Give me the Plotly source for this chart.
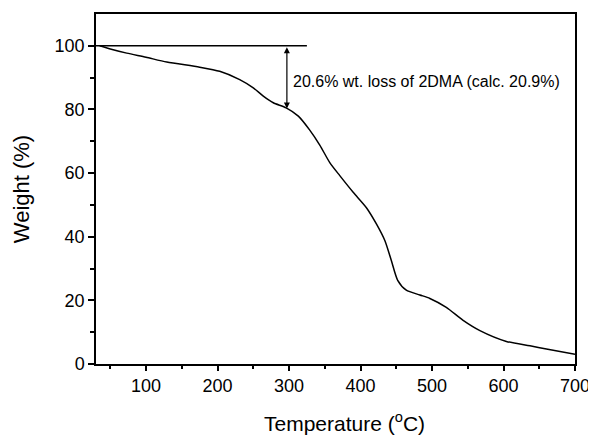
import plotly.graph_objects as go

# Data
temperature = [35, 50, 73, 100, 129, 175, 203, 231, 250, 264, 278, 296, 313, 329, 343, 357, 371,
               390, 408, 422, 434, 443, 452, 464, 483, 497, 520, 543, 567, 604, 637, 660, 700]
weight = [100, 99.0, 97.7, 96.4, 94.9, 93.3, 92.0, 89.4, 86.8, 84.2, 82.1, 80.5, 77.9, 73.5, 68.8, 63.3, 59.2,
          53.9, 49.2, 44.1, 38.8, 32.6, 26.3, 23.2, 21.7, 20.6, 17.8, 13.8, 10.5, 7.1, 5.7, 4.7, 3.1]

ref_line_x = [30, 325]
ref_line_y = [100, 100]
arrow_x = 297
arrow_top = 100
arrow_bottom = 80.3
label_text = "20.6% wt. loss of 2DMA (calc. 20.9%)"

x_ticks = [100, 200, 300, 400, 500, 600, 700]
x_minor = [50, 150, 250, 350, 450, 550, 650]
y_ticks = [0, 20, 40, 60, 80, 100]
y_minor = [10, 30, 50, 70, 90]

FONT = "Arial, Liberation Sans, sans-serif"

fig = go.Figure()
fig.add_trace(go.Scatter(x=temperature, y=weight, mode="lines",
                         line=dict(color="black", width=1.5, shape="spline", smoothing=0.7),
                         showlegend=False, hoverinfo="skip"))
fig.add_trace(go.Scatter(x=ref_line_x, y=ref_line_y, mode="lines",
                         line=dict(color="black", width=1.5), showlegend=False, hoverinfo="skip"))

fig.add_annotation(x=arrow_x, y=arrow_bottom, ax=arrow_x, ay=arrow_top, xref="x", yref="y",
                   axref="x", ayref="y", text="", showarrow=True, arrowhead=2, startarrowhead=2,
                   arrowside="end+start", arrowsize=1, arrowwidth=1.2, arrowcolor="black",
                   standoff=0, startstandoff=0)
fig.add_annotation(x=arrow_x + 6, y=88.8, xref="x", yref="y", text=label_text, showarrow=False,
                   xanchor="left", yanchor="middle", font=dict(family=FONT, size=16, color="black"))
fig.add_annotation(x=0.518, y=-58 / 352, xref="paper", yref="paper",
                   text="Temperature (<sup>o</sup>C)", showarrow=False,
                   xanchor="center", yanchor="middle", font=dict(family=FONT, size=21, color="black"))

axis_common = dict(showline=True, linecolor="black", linewidth=1.5, mirror=True,
                   ticks="outside", tickcolor="black", tickwidth=1.5, showgrid=False, zeroline=False,
                   tickfont=dict(family=FONT, size=18, color="black"))

fig.update_xaxes(range=[30, 700], tickvals=x_ticks, ticklen=5,
                 minor=dict(tickvals=x_minor, ticks="outside", ticklen=3, tickwidth=1.5, tickcolor="black"),
                 **axis_common)
fig.update_yaxes(range=[0, 110], tickvals=y_ticks, ticklen=6,
                 minor=dict(tickvals=y_minor, ticks="outside", ticklen=4, tickwidth=1.5, tickcolor="black"),
                 title=dict(text="Weight (%)", font=dict(family=FONT, size=22, color="black"), standoff=19),
                 **axis_common)

# The page body adds an 8px margin, so the figure is 8px smaller and margins shifted accordingly
fig.update_layout(width=588, height=428, margin=dict(l=88, r=21, t=4, b=72),
                  paper_bgcolor="white", plot_bgcolor="white",
                  font=dict(family=FONT, color="black"))

fig.write_html("out.html")
